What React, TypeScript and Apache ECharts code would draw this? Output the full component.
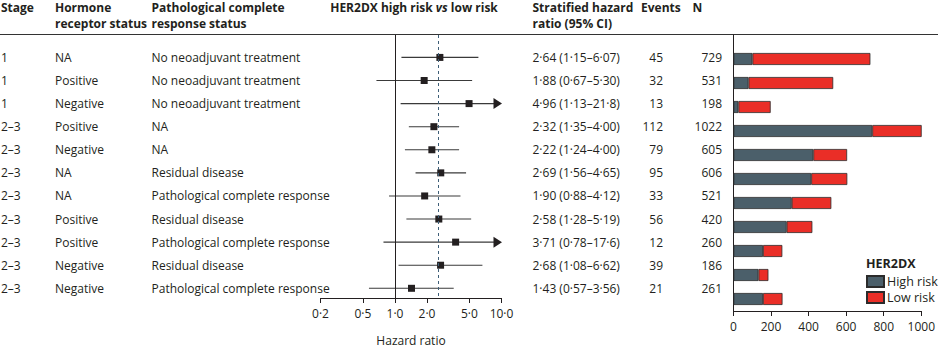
import React, { useEffect, useRef } from "react";
import * as echarts from "echarts";

const stages = ["1", "1", "1", "2–3", "2–3", "2–3", "2–3", "2–3", "2–3", "2–3", "2–3"];
const hormone = ["NA", "Positive", "Negative", "Positive", "Negative", "NA", "NA", "Positive", "Positive", "Negative", "Negative"];
const pcrStatus = [
  "No neoadjuvant treatment",
  "No neoadjuvant treatment",
  "No neoadjuvant treatment",
  "NA",
  "NA",
  "Residual disease",
  "Pathological complete response",
  "Residual disease",
  "Pathological complete response",
  "Residual disease",
  "Pathological complete response",
];
const hazardRatio = [2.64, 1.88, 4.96, 2.32, 2.22, 2.69, 1.9, 2.58, 3.71, 2.68, 1.43];
const ciLow = [1.15, 0.67, 1.13, 1.35, 1.24, 1.56, 0.88, 1.28, 0.78, 1.08, 0.57];
const ciHigh = [6.07, 5.3, 21.8, 4.0, 4.0, 4.65, 4.12, 5.19, 17.6, 6.62, 3.56];
const events = [45, 32, 13, 112, 79, 95, 33, 56, 12, 39, 21];
const totalN = [729, 531, 198, 1022, 605, 606, 521, 420, 260, 186, 261];
const highRisk = [101, 80, 26, 739, 425, 414, 310, 283, 157, 133, 157];
const lowRisk = [628, 451, 172, 283, 180, 192, 211, 137, 103, 53, 104];
const hrTicks = [0.2, 0.5, 1, 2, 5, 10];
const hrTickLabels = ["0·2", "0·5", "1·0", "2·0", "5·0", "10·0"];
const referenceHR = 2.6;
const nullHR = 1;

const FONT = "Open Sans";
const INK = "#231f20";
const HIGH_COLOR = "#4b5f6a";
const LOW_COLOR = "#ea2e27";

const fmt = (v: number) => (v >= 10 ? v.toFixed(1) : v.toFixed(2)).replace(".", "·");

export default function App() {
  const ref = useRef<HTMLDivElement>(null);
  useEffect(() => {
    if (!ref.current) return;
    const chart = echarts.init(ref.current, undefined, { renderer: "svg" });
    const lg = (v: number) => Math.log10(v);
    const xMin = lg(hrTicks[0]);
    const xMax = lg(hrTicks[hrTicks.length - 1]);
    const rows = hazardRatio.map((_, i) => i);

    const forestData = hazardRatio.map((v, i) => [lg(v), i, lg(ciLow[i]), lg(ciHigh[i])]);
    const textData = rows.map((i) => [0, i]);

    const headerStyle = {
      fontFamily: FONT,
      fontWeight: "bold",
      fontSize: 12,
      fill: INK,
      lineHeight: 16,
      verticalAlign: "top",
    };

    const option: any = {
      animation: false,
      textStyle: { fontFamily: FONT },
      grid: [
        { left: 320.5, width: 181, top: 35, bottom: 40.3 },
        { left: 733.5, right: 14, top: 47, height: 264 },
      ],
      xAxis: [
        {
          gridIndex: 0,
          type: "value",
          min: xMin,
          max: xMax,
          name: "Hazard ratio",
          nameLocation: "middle",
          nameGap: 36,
          nameTextStyle: { fontFamily: FONT, fontSize: 12, color: INK },
          axisLine: { show: true, onZero: false, lineStyle: { color: INK, width: 1 } },
          axisTick: { show: true, length: 5, lineStyle: { color: INK }, customValues: hrTicks.map(lg) },
          axisLabel: {
            fontFamily: FONT,
            fontSize: 12,
            color: INK,
            margin: 9,
            customValues: hrTicks.map(lg),
            formatter: (v: number) => {
              let best = 0;
              hrTicks.forEach((t, k) => {
                if (Math.abs(lg(t) - v) < Math.abs(lg(hrTicks[best]) - v)) best = k;
              });
              return hrTickLabels[best];
            },
          },
          splitLine: { show: false },
        },
        {
          gridIndex: 1,
          type: "value",
          min: 0,
          max: 1000,
          interval: 200,
          axisLine: { show: true, onZero: false, lineStyle: { color: INK, width: 1 } },
          axisTick: { show: true, length: 5, lineStyle: { color: INK } },
          axisLabel: { fontFamily: FONT, fontSize: 12, color: INK, margin: 9, formatter: (v: number) => String(v) },
          splitLine: { show: false },
        },
      ],
      yAxis: [
        {
          gridIndex: 0,
          type: "value",
          inverse: true,
          min: -0.971,
          max: 10.42,
          show: false,
        },
        {
          gridIndex: 1,
          type: "category",
          inverse: true,
          data: rows.map(String),
          show: false,
        },
      ],
      legend: {
        orient: "vertical",
        left: 866,
        top: 275,
        itemWidth: 17,
        itemHeight: 11,
        itemGap: 3,
        icon: "rect",
        padding: 0,
        textStyle: { fontFamily: FONT, fontSize: 12.5, color: INK, padding: [0, 0, 0, -2] },
        data: ["High risk", "Low risk"],
      },
      series: [
        {
          type: "custom",
          xAxisIndex: 0,
          yAxisIndex: 0,
          clip: false,
          data: forestData,
          encode: { x: 0, y: 1 },
          renderItem: (_p: any, api: any) => {
            const i = api.value(1);
            const hiV = api.value(3);
            const lo = api.coord([api.value(2), i]);
            const hi = api.coord([Math.min(hiV, xMax), i]);
            const c = api.coord([api.value(0), i]);
            const over = hiV > xMax;
            const children: any[] = [
              {
                type: "line",
                shape: { x1: lo[0], y1: lo[1], x2: over ? hi[0] - 6 : hi[0], y2: hi[1] },
                style: { stroke: "#3a3a3a", lineWidth: 1.1 },
              },
              {
                type: "rect",
                shape: { x: c[0] - 3.5, y: c[1] - 3.5, width: 7, height: 7 },
                style: { fill: INK },
              },
            ];
            if (over) {
              children.push({
                type: "polygon",
                shape: { points: [[hi[0] + 0.5, hi[1]], [hi[0] - 8, hi[1] - 5.5], [hi[0] - 8, hi[1] + 5.5]] },
                style: { fill: INK },
              });
            }
            return { type: "group", children };
          },
          markLine: {
            silent: true,
            symbol: "none",
            label: { show: false },
            data: [
              { xAxis: lg(nullHR), lineStyle: { color: INK, width: 1, type: "solid" } },
              { xAxis: lg(referenceHR), lineStyle: { color: "#3f5f78", width: 1, type: [3, 3] } },
            ],
          },
          z: 3,
        },
        {
          type: "custom",
          xAxisIndex: 0,
          yAxisIndex: 0,
          clip: false,
          data: textData,
          encode: { x: 0, y: 1 },
          renderItem: (_p: any, api: any) => {
            const i = api.value(1);
            const y = api.coord([0, i])[1];
            const base = { fontFamily: FONT, fontSize: 12, fill: INK, verticalAlign: "middle" };
            return {
              type: "group",
              children: [
                { type: "text", x: 1, y, style: { ...base, text: stages[i], align: "left" } },
                { type: "text", x: 55, y, style: { ...base, text: hormone[i], align: "left" } },
                { type: "text", x: 151.5, y, style: { ...base, text: pcrStatus[i], align: "left" } },
                {
                  type: "text",
                  x: 532.5,
                  y,
                  style: {
                    ...base,
                    text: `${fmt(hazardRatio[i])} (${fmt(ciLow[i])}–${fmt(ciHigh[i])})`,
                    align: "left",
                  },
                },
                { type: "text", x: 663, y, style: { ...base, text: String(events[i]), align: "right" } },
                { type: "text", x: 722, y, style: { ...base, text: String(totalN[i]), align: "right" } },
              ],
            };
          },
        },
        {
          name: "High risk",
          type: "bar",
          xAxisIndex: 1,
          yAxisIndex: 1,
          stack: "n",
          barWidth: 12,
          data: highRisk,
          itemStyle: { color: HIGH_COLOR, borderColor: "#2b2b2b", borderWidth: 0.8 },
        },
        {
          name: "Low risk",
          type: "bar",
          xAxisIndex: 1,
          yAxisIndex: 1,
          stack: "n",
          barWidth: 12,
          data: lowRisk,
          itemStyle: { color: LOW_COLOR, borderColor: "#2b2b2b", borderWidth: 0.8 },
        },
      ],
      graphic: [
        { type: "line", shape: { x1: 0, y1: 34.5, x2: 938, y2: 34.5 }, style: { stroke: "#333", lineWidth: 1 } },
        { type: "line", shape: { x1: 733.5, y1: 34.5, x2: 733.5, y2: 311 }, style: { stroke: INK, lineWidth: 1 } },
        { type: "text", x: 1, y: -1, style: { ...headerStyle, text: "Stage" } },
        { type: "text", x: 55, y: -1, style: { ...headerStyle, text: "Hormone\nreceptor status" } },
        { type: "text", x: 151.5, y: -1, style: { ...headerStyle, text: "Pathological complete\nresponse status" } },
        {
          type: "text",
          x: 414,
          y: -1,
          style: {
            ...headerStyle,
            align: "center",
            text: "{b|HER2DX high risk }{i|vs}{b| low risk}",
            rich: {
              b: { fontFamily: FONT, fontWeight: "bold", fontSize: 12, fill: INK, lineHeight: 16 },
              i: { fontFamily: FONT, fontWeight: "bold", fontStyle: "italic", fontSize: 12, fill: INK, lineHeight: 16 },
            },
          },
        },
        { type: "text", x: 532.5, y: -1, style: { ...headerStyle, text: "Stratified hazard\nratio (95% CI)" } },
        { type: "text", x: 641, y: -1, style: { ...headerStyle, text: "Events" } },
        { type: "text", x: 692.5, y: -1, style: { ...headerStyle, text: "N" } },
        {
          type: "text",
          x: 866,
          y: 263,
          style: { fontFamily: FONT, fontWeight: "bold", fontSize: 12.5, fill: INK, text: "HER2DX", verticalAlign: "middle" },
        },
      ],
    };
    chart.setOption(option);
    return () => chart.dispose();
  }, []);
  return (
    <div
      ref={ref}
      style={{ position: "absolute", left: 0, top: 0, width: 938, height: 351, background: "#fff" }}
    />
  );
}
